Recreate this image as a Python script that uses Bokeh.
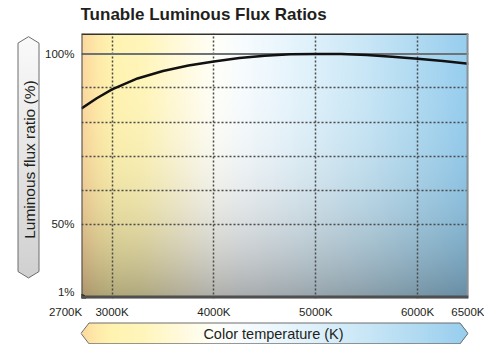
import math
import numpy as np
from bokeh.plotting import figure
from bokeh.layouts import row, column
from bokeh.models import Span
from bokeh.core.properties import value
from bokeh.embed import file_html
from bokeh.resources import INLINE

# ---------------- data ----------------
temps = [2700, 2850, 3000, 3250, 3500, 3750, 4000, 4250, 4500, 4750,
         5000, 5250, 5500, 5750, 6000, 6250, 6500]
ratios = [84.0, 87.0, 89.6, 92.8, 95.0, 96.6, 97.8, 98.8, 99.5, 99.9,
          100.0, 100.0, 99.7, 99.2, 98.6, 97.9, 97.1]

x_tick_values = [2700, 3000, 4000, 5000, 6000, 6500]
x_tick_labels = ["2700K", "3000K", "4000K", "5000K", "6000K", "6500K"]
y_tick_values = [30, 50, 100]
y_tick_labels = ["1%", "50%", "100%"]
x_grid_values = [3000, 4000, 5000, 6000]
y_grid_values = [50, 60, 70, 80, 90]
reference_line = 100

title_text = "Tunable Luminous Flux Ratios"
x_title = "Color temperature (K)"
y_title = "Luminous flux ratio (%)"

# colour stops of the colour-temperature gradient (by K)
grad_k = [2700, 2850, 3000, 3300, 3700, 4000, 4300, 4700, 5000, 5500, 6000, 6500]
grad_rgb = [(251, 216, 158), (254, 233, 168), (255, 243, 176), (255, 245, 186),
            (255, 250, 222), (255, 255, 248), (246, 251, 254), (232, 245, 252),
            (221, 240, 250), (200, 230, 246), (176, 218, 241), (150, 205, 238)]

X_START, X_END = 2700, 6500
Y_START, Y_END = 28.2, 106.0

FONT = "Liberation Sans"
TXT = "#231f20"

# canvas geometry (pixels) of the pieces
CW, CH = 484, 344
TOP_H = 30             # title strip
BOT_H = 24             # x-title strip
LEFT_W = 42            # y-title strip
PX_L, PX_R, PX_T, PX_B = 80, 468, 33, 298   # plot frame
MID_H = CH - TOP_H - BOT_H

GRAD = np.array(grad_rgb, dtype=float)


def kx(px):
    return X_START + (px - PX_L) * (X_END - X_START) / (PX_R - PX_L)


def grad_rgb_at(k):
    k = np.asarray(k, dtype=float)
    return np.stack([np.interp(k, grad_k, GRAD[:, j]) for j in range(3)], axis=-1)


def to_rgba(rgb, alpha):
    h, w = alpha.shape
    img = np.empty((h, w), dtype=np.uint32)
    v = img.view(dtype=np.uint8).reshape((h, w, 4))
    v[..., 0:3] = np.clip(np.round(rgb), 0, 255).astype(np.uint8)
    v[..., 3] = np.clip(np.round(alpha * 255), 0, 255).astype(np.uint8)
    return img


def deco_fig(w, h, x0, y0, bl=0, br=0):
    # data units of these strips are canvas pixels (y measured upwards from canvas bottom)
    f = figure(width=w, height=h, x_range=(x0 + bl, x0 + w - br),
               y_range=(CH - y0 - h, CH - y0), title=None,
               output_backend="svg", toolbar_location=None,
               x_axis_type=None, y_axis_type=None, min_border=0,
               min_border_left=bl, min_border_right=br)
    f.outline_line_color = None
    f.background_fill_color = "white"
    f.border_fill_color = "white"
    return f


# ================= title strip =================
tf = deco_fig(CW, TOP_H, 0, 0, PX_L, CW - PX_R)
tf.text(x=[PX_L], y=[CH - 14], text=[title_text], text_align="left", text_baseline="middle",
        text_font=value(FONT), text_font_size="17px", text_font_style="bold", text_color=TXT)

# ================= main figure =================
p = figure(width=CW - LEFT_W, height=MID_H, x_range=(X_START, X_END), y_range=(Y_START, Y_END),
           title=None, output_backend="svg", toolbar_location=None,
           min_border_left=PX_L - LEFT_W, min_border_right=CW - PX_R,
           min_border_top=PX_T - TOP_H, min_border_bottom=TOP_H + MID_H - PX_B)
p.background_fill_color = "white"
p.border_fill_color = "white"
p.outline_line_color = None

# background gradient
W, H = 388, 265
xs = np.linspace(X_START, X_END, W)
top = grad_rgb_at(xs)
t = 1 - (np.arange(H) + 0.5) / H
fdark = 1 - 0.32 * t ** 3
rgb = top[None, :, :] * fdark[:, None, None]
bg = p.image_rgba(image=[to_rgba(rgb, np.ones((H, W)))], x=X_START, y=Y_START,
                  dw=X_END - X_START, dh=Y_END - Y_START)
bg.level = "image"

# grid
p.xgrid.ticker = x_grid_values
p.ygrid.ticker = y_grid_values
for g in (p.xgrid, p.ygrid):
    g.grid_line_color = "#4a4a4a"
    g.grid_line_dash = "2 2"
    g.grid_line_width = 1.5
    g.level = "underlay"

ref = Span(location=reference_line, dimension="width", line_color="#6e7378", line_width=2)
ref.level = "underlay"
p.add_layout(ref)

# curve
p.line(temps, ratios, line_color="#111111", line_width=2.5)

# frame borders (half of each line lies inside the frame)
p.add_layout(Span(location=Y_END, dimension="width", line_color="#333333", line_width=3))
p.add_layout(Span(location=X_START, dimension="height", line_color="#444444", line_width=2))
p.add_layout(Span(location=X_END, dimension="height", line_color="#8c9196", line_width=4))
p.add_layout(Span(location=Y_START, dimension="width", line_color="#4f4f4f", line_width=6))
p.scatter([X_START], [Y_START], size=8, color="#111111")

# axes
xo = dict(zip(x_tick_values, x_tick_labels))
# first label sits left of its tick: pad with no-break spaces so it ends at the tick
xo[x_tick_values[0]] = x_tick_labels[0] + "\u00a0" * 10
p.xaxis.ticker = x_tick_values
p.xaxis.major_label_overrides = xo
p.yaxis.ticker = y_tick_values
p.yaxis.major_label_overrides = dict(zip(y_tick_values, y_tick_labels))
for ax in (p.xaxis, p.yaxis):
    ax.axis_line_color = None
    ax.major_tick_line_color = None
    ax.minor_tick_line_color = None
    ax.major_tick_out = 0
    ax.major_tick_in = 0
    ax.minor_tick_out = 0
    ax.minor_tick_in = 0
    ax.major_label_text_font = FONT
    ax.major_label_text_font_size = "11.5px"
    ax.major_label_text_color = TXT
p.xaxis.major_label_standoff = 7
p.yaxis.major_label_standoff = 7

# ================= left strip: y-axis title box =================
lf = deco_fig(LEFT_W, MID_H, 0, TOP_H)
YL, YR, YC = 17.5, 38.5, 28.0
YT0, YT1, YB1, YB0 = 33.5, 40.5, 290.5, 297.5
S = 2
bw, bh = int((YR - YL) * S), int((YB0 - YT0) * S)
cx = YL + (np.arange(bw) + 0.5) / S
cy = YB0 - (np.arange(bh) + 0.5) / S          # row 0 = bottom
CX, CY = np.meshgrid(cx, cy)
half_w = (YR - YL) / 2
lim = half_w * np.minimum(1, np.minimum((CY - YT0) / (YT1 - YT0), (YB0 - CY) / (YB0 - YB1)))
alpha = np.clip((lim - np.abs(CX - YC)) * S + 0.5, 0, 1)
gray = 250 - 42 * (CY - YT0) / (YB0 - YT0)
rgb = np.repeat(gray[:, :, None], 3, axis=2)
lf.image_rgba(image=[to_rgba(rgb, alpha)], x=YL, y=CH - YB0, dw=YR - YL, dh=YB0 - YT0)
lf.patch([YC, YR, YR, YC, YL, YL], [CH - v for v in (YT0, YT1, YB1, YB0, YB1, YT1)],
         fill_color=None, line_color="#6d6d6d", line_width=1)
lf.text(x=[YC + 0.5], y=[CH - 168], text=[y_title], angle=math.pi / 2,
        text_align="center", text_baseline="middle", text_font=value(FONT),
        text_font_size="15.5px", text_color=TXT)

# ================= bottom strip: x-axis title arrow =================
bf = deco_fig(CW, BOT_H, 0, CH - BOT_H, PX_L, CW - PX_R)
AL0, AL1, AR1, AR0 = 80.5, 88.5, 459.5, 467.5
AT, AB = 322.5, 343.3
AM = (AT + AB) / 2
aw, ah = int((AR0 - AL0) * S), int(round((AB - AT) * S))
cx = AL0 + (np.arange(aw) + 0.5) / S
cy = AB - (np.arange(ah) + 0.5) / S
CX, CY = np.meshgrid(cx, cy)
half_h = (AB - AT) / 2
lim = half_h * np.minimum(1, np.minimum((CX - AL0) / (AL1 - AL0), (AR0 - CX) / (AR0 - AR1)))
alpha = np.clip((lim - np.abs(CY - AM)) * S + 0.5, 0, 1)
rgb = grad_rgb_at(kx(CX))
bf.image_rgba(image=[to_rgba(rgb, alpha)], x=AL0, y=CH - AB, dw=AR0 - AL0, dh=AB - AT)
bf.patch([AL0, AL1, AR1, AR0, AR1, AL1], [CH - v for v in (AM, AT, AT, AM, AB, AB)],
         fill_color=None, line_color="#6d6d6d", line_width=1)
bf.text(x=[273], y=[CH - 333], text=[x_title], text_align="center", text_baseline="middle",
        text_font=value(FONT), text_font_size="14.5px", text_color=TXT)

layout = column(tf, row(lf, p), bf)
open("out.html", "w").write(file_html(layout, INLINE))
